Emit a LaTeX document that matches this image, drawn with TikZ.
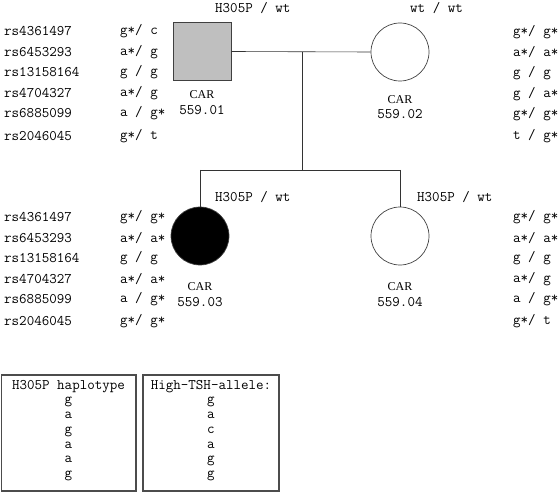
\documentclass[tikz,border=0pt]{standalone}
\usepackage{fontspec}
\setmainfont{Liberation Serif}
\begin{document}
\begin{tikzpicture}[x=1pt,y=-1pt,
  txt/.style={font=\ttfamily\fontsize{14.6}{16}\selectfont, inner sep=0pt},
  lbl/.style={txt, anchor=west},
  letter/.style={txt, text height=6.3pt, text depth=3pt},
  carlbl/.style={inner sep=0pt, align=center, font=\fontsize{12}{15}\selectfont},
  person/.style={draw=black!75, line width=0.7pt, minimum size=58pt, inner sep=0pt},
  conn/.style={draw=black!80, line width=0.6pt},
  legend/.style={draw=black!70, line width=1.1pt}]
\useasboundingbox (0,0) rectangle (560,492);
% persons
\node[person, rectangle, fill=black!25] (p1) at (202,51.5) {};
\node[person, circle, fill=white] (p2) at (400,52) {};
\node[person, circle, fill=black] (p3) at (200,236) {};
\node[person, circle, fill=white] (p4) at (400,236) {};
% connectors
\coordinate (m) at (302,52);
\coordinate (s) at (302,170);
\coordinate (s3) at (200,170);
\coordinate (s4) at (400,170);
\draw[conn] (p1.east) -- (p2.west);
\draw[conn] (m) -- (s);
\draw[conn] (s3) -- (s4);
\draw[conn] (s3) -- (p3.north);
\draw[conn] (s4) -- (p4.north);
% top labels
\node[lbl] (h1) at (215,8) {H305P / wt};
\node[lbl] (h2) at (410,8) {wt / wt};
\node[lbl] (h3) at (215,197) {H305P / wt};
\node[lbl] (h4) at (417,197) {H305P / wt};
% CAR labels
\node[carlbl] (c1a) at (202,95) {CAR};
\node[txt] (c1b) at (202,110) {559.01};
\node[carlbl] (c2a) at (400,100) {CAR};
\node[txt] (c2b) at (400,114) {559.02};
\node[carlbl] (c3a) at (200,287) {CAR};
\node[txt] (c3b) at (200,302) {559.03};
\node[carlbl] (c4a) at (400,287) {CAR};
\node[txt] (c4b) at (400,302) {559.04};
% SNP names
\foreach \y/\n in {31/rs4361497,52/rs6453293,72/rs13158164,93/rs4704327,113/rs6885099,136/rs2046045}{
  \node[lbl] at (4,\y) {\n};}
\foreach \y/\n in {217/rs4361497,238/rs6453293,258/rs13158164,279/rs4704327,299/rs6885099,321/rs2046045}{
  \node[lbl] at (4,\y) {\n};}
% genotypes 559.01
\node[lbl] (g1a) at (120,31) {g*/ c};
\node[lbl] (g1b) at (120,52) {a*/ g};
\node[lbl] (g1c) at (120,72) {g / g};
\node[lbl] (g1d) at (120,93) {a*/ g};
\node[lbl] (g1e) at (120,113) {a / g*};
\node[lbl] (g1f) at (120,136) {g*/ t};
% genotypes 559.02
\node[lbl] (g2a) at (513,32) {g*/ g*};
\node[lbl] (g2b) at (513,52) {a*/ a*};
\node[lbl] (g2c) at (513,73) {g / g};
\node[lbl] (g2d) at (513,94) {g / a*};
\node[lbl] (g2e) at (513,114) {g*/ g*};
\node[lbl] (g2f) at (513,136) {t / g*};
% genotypes 559.03
\node[lbl] (g3a) at (120,217) {g*/ g*};
\node[lbl] (g3b) at (120,238) {a*/ a*};
\node[lbl] (g3c) at (120,258) {g / g};
\node[lbl] (g3d) at (120,279) {a*/ a*};
\node[lbl] (g3e) at (120,299) {a / g*};
\node[lbl] (g3f) at (120,321) {g*/ g*};
% genotypes 559.04
\node[lbl] (g4a) at (513,217) {g*/ g*};
\node[lbl] (g4b) at (513,238) {a*/ a*};
\node[lbl] (g4c) at (513,258) {g / g};
\node[lbl] (g4d) at (513,279) {a*/ g};
\node[lbl] (g4e) at (513,299) {a / g*};
\node[lbl] (g4f) at (513,321) {g*/ t};
% legend boxes
\draw[legend] (1.5,375) rectangle (136,491);
\draw[legend] (143,375) rectangle (279,491);
\node[txt] (b1h) at (68.5,387) {H305P haplotype};
\node[txt] (b2h) at (211,387) {High-TSH-allele:};
\foreach \y/\a/\b in {402/g/g,417/a/a,432/g/c,446.5/a/a,461/a/g,475.5/g/g}{
  \node[letter] at (68.5,\y) {\a};
  \node[letter] at (211,\y) {\b};}
\end{tikzpicture}
\end{document}
